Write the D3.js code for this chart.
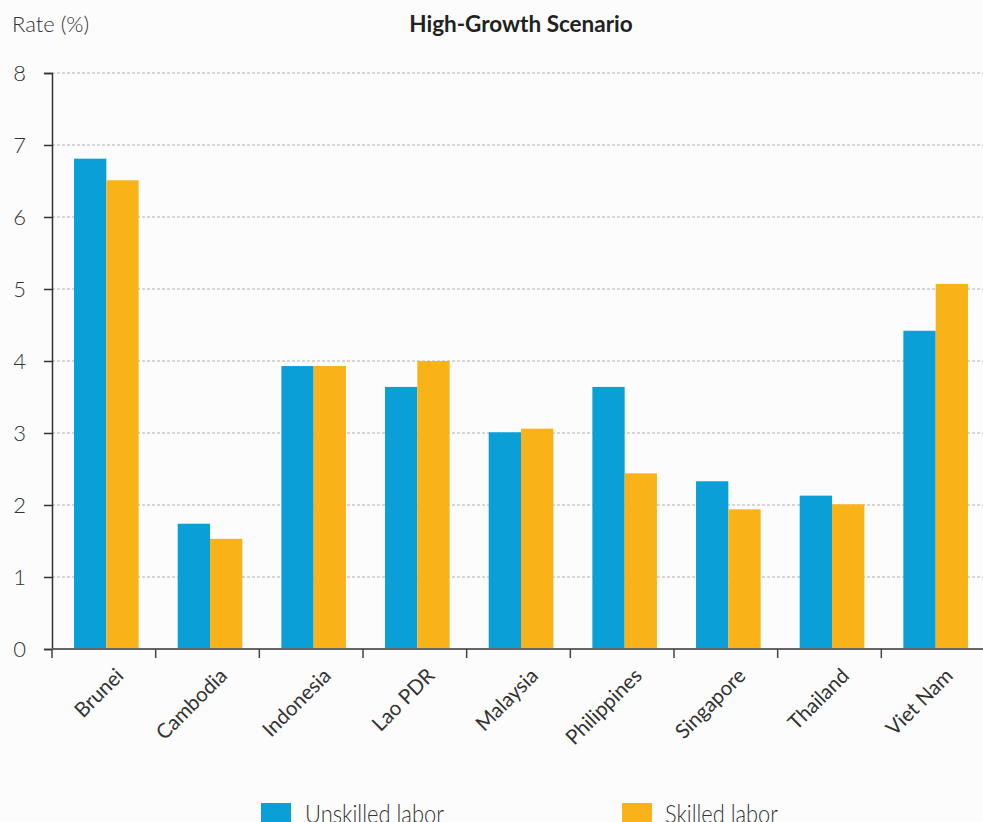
<!DOCTYPE html>
<html>
<head>
<meta charset="utf-8">
<script src="https://cdn.jsdelivr.net/npm/d3@7"></script>
<style>
  html, body { margin: 0; padding: 0; background: #fcfcfc; }
  svg { display: block; font-family: Lato, "Open Sans", sans-serif; }
</style>
</head>
<body>
<svg id="chart" width="983" height="822"></svg>
<script>
// Wage growth rates by country, high-growth scenario
const countries = ["Brunei", "Cambodia", "Indonesia", "Lao PDR", "Malaysia", "Philippines", "Singapore", "Thailand", "Viet Nam"];
const unskilled = [6.81, 1.74, 3.93, 3.64, 3.01, 3.64, 2.33, 2.13, 4.42];
const skilled   = [6.51, 1.53, 3.93, 4.00, 3.06, 2.44, 1.94, 2.01, 5.07];
const seriesNames = ["Unskilled labor", "Skilled labor"];
const seriesColors = ["#0aa0d7", "#f9b319"];
const yTicks = [0, 1, 2, 3, 4, 5, 6, 7, 8];

const svg = d3.select("#chart");
const plotLeft = 52, plotRight = 985, plotTop = 73, plotBottom = 649;

const x = d3.scaleBand().domain(countries).range([plotLeft, plotRight]).padding(0);
const inner = d3.scaleBand().domain([0, 1]).range([0, 64.6]);
const barOffset = (x.bandwidth() - 64.6) / 2 + 2.5;
const y = d3.scaleLinear().domain([0, 8]).range([plotBottom, plotTop]);

// dotted gridlines
svg.append("g").selectAll("line").data(yTicks.filter(d => d > 0)).join("line")
  .attr("x1", plotLeft).attr("x2", 983)
  .attr("y1", d => y(d)).attr("y2", d => y(d))
  .attr("stroke", "#b0b0b0").attr("stroke-width", 1)
  .attr("stroke-dasharray", "3,2");

// bars
const series = [unskilled, skilled];
series.forEach((vals, si) => {
  svg.append("g").selectAll("rect").data(countries).join("rect")
    .attr("x", c => x(c) + barOffset + inner(si))
    .attr("width", inner.bandwidth())
    .attr("y", (c, i) => y(vals[i]))
    .attr("height", (c, i) => plotBottom - y(vals[i]))
    .attr("fill", seriesColors[si]);
});

// y axis with ticks at every integer
const yAxis = svg.append("g").attr("transform", `translate(${plotLeft},0)`)
  .call(d3.axisLeft(y).tickValues(yTicks).tickSize(8).tickPadding(18).tickFormat(d3.format("d")));
yAxis.select(".domain").attr("stroke", "#333").attr("stroke-width", 1.5);
yAxis.selectAll(".tick line").attr("stroke", "#333").attr("stroke-width", 1.5);
yAxis.selectAll("text").attr("font-size", 22).attr("fill", "#333")
  .attr("font-family", "Lato, sans-serif").style("font-weight", 300);

// x axis baseline and boundary ticks
svg.append("line").attr("x1", plotLeft).attr("x2", 983).attr("y1", plotBottom).attr("y2", plotBottom)
  .attr("stroke", "#666").attr("stroke-width", 2);
svg.append("g").selectAll("line").data(countries).join("line")
  .attr("x1", c => x(c)).attr("x2", c => x(c))
  .attr("y1", plotBottom).attr("y2", plotBottom + 9)
  .attr("stroke", "#444").attr("stroke-width", 1.5);

// rotated category labels
svg.append("g").selectAll("text").data(countries).join("text")
  .attr("transform", c => `translate(${x(c) + x.bandwidth() / 2 + 21},${plotBottom + 28}) rotate(-45)`)
  .attr("text-anchor", "end")
  .attr("font-size", 20.5).attr("fill", "#333").style("font-weight", 400)
  .text(c => c);

// titles
svg.append("text").attr("x", 12).attr("y", 32).attr("font-size", 22).attr("fill", "#333").style("font-weight", 300)
  .text("Rate (%)");
svg.append("text").attr("x", 521).attr("y", 32).attr("text-anchor", "middle")
  .attr("font-size", 22.5).attr("font-weight", "bold").attr("fill", "#222")
  .text("High-Growth Scenario");

// legend
const legendX = [261, 622];
const legendTextX = [305, 665];
const legendTextW = [139, 113];
seriesNames.forEach((name, i) => {
  svg.append("rect").attr("x", legendX[i]).attr("y", 803).attr("width", 30).attr("height", 19)
    .attr("fill", seriesColors[i]);
  svg.append("text").attr("x", legendTextX[i]).attr("y", 823)
    .attr("font-size", 26).attr("fill", "#333").style("font-weight", 300)
    .attr("textLength", legendTextW[i]).attr("lengthAdjust", "spacingAndGlyphs")
    .text(name);
});
</script>
</body>
</html>
